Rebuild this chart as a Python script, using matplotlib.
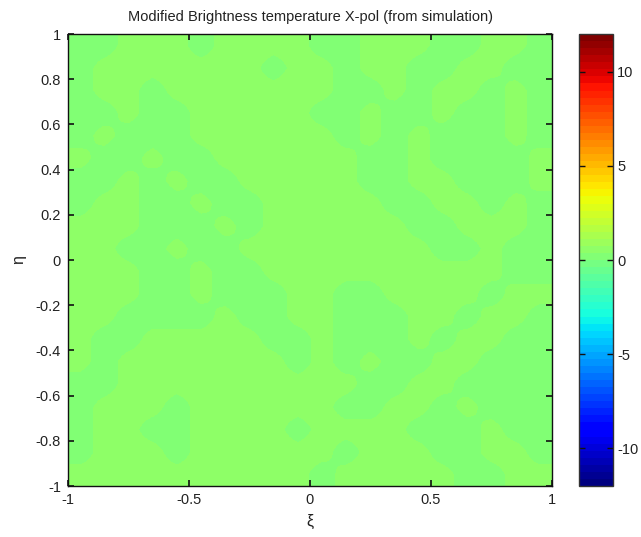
import numpy as np
import matplotlib
matplotlib.use("Agg")
import matplotlib.pyplot as plt

plt.rcParams['font.family'] = ['Liberation Sans', 'DejaVu Sans']
plt.rcParams['axes.unicode_minus'] = False

title = "Modified Brightness temperature X-pol (from simulation)"
xlabel = "ξ"
ylabel = "η"
xticks = [-1, -0.5, 0, 0.5, 1]
yticks = [-1, -0.8, -0.6, -0.4, -0.2, 0, 0.2, 0.4, 0.6, 0.8, 1]
cticks = [-10, -5, 0, 5, 10]
clim = (-12, 12)

# Brightness temperature field (K), rows from eta=+1 (top) to eta=-1 (bottom),
# columns from xi=-1 (left) to xi=+1 (right)
tb = [
    [0.1,0.1,0.6,0.6,0.6,0.1,0.6,0.6,0.6,0.6,0.1,0.1,0.6,0.6,0.6,0.1,0.1,0.6,0.6,0.1],
    [0.1,0.6,0.6,0.6,0.6,0.6,0.6,0.6,0.1,0.6,0.6,0.1,0.6,0.6,0.1,0.1,0.6,0.6,0.1,0.1],
    [0.1,0.6,0.6,0.1,0.6,0.6,0.6,0.6,0.6,0.6,0.6,0.1,0.1,0.6,0.1,0.6,0.6,0.1,0.6,0.1],
    [0.1,0.1,0.6,0.1,0.1,0.6,0.6,0.6,0.6,0.6,0.1,0.1,0.6,0.1,0.1,0.6,0.1,0.1,0.6,0.1],
    [0.1,0.6,0.1,0.1,0.1,0.6,0.6,0.6,0.6,0.6,0.6,0.1,0.6,0.1,0.6,0.1,0.1,0.1,0.6,0.1],
    [0.6,0.1,0.1,0.6,0.1,0.1,0.6,0.6,0.6,0.6,0.6,0.6,0.1,0.1,0.6,0.1,0.1,0.1,0.1,0.6],
    [0.1,0.1,0.6,0.1,0.6,0.1,0.1,0.6,0.6,0.6,0.6,0.6,0.1,0.1,0.6,0.6,0.1,0.1,0.1,0.6],
    [0.1,0.6,0.6,0.1,0.1,0.6,0.1,0.1,0.6,0.6,0.6,0.6,0.6,0.1,0.1,0.6,0.6,0.1,0.6,0.1],
    [0.6,0.6,0.6,0.1,0.1,0.1,0.6,0.1,0.6,0.6,0.6,0.6,0.6,0.6,0.1,0.1,0.6,0.6,0.6,0.1],
    [0.6,0.6,0.1,0.1,0.6,0.1,0.1,0.6,0.6,0.6,0.6,0.6,0.6,0.6,0.6,0.1,0.1,0.6,0.1,0.1],
    [0.6,0.6,0.6,0.1,0.1,0.6,0.1,0.1,0.6,0.6,0.6,0.6,0.6,0.6,0.6,0.6,0.6,0.6,0.1,0.1],
    [0.6,0.6,0.6,0.1,0.1,0.6,0.1,0.1,0.1,0.6,0.6,0.1,0.1,0.6,0.6,0.6,0.6,0.1,0.6,0.6],
    [0.6,0.6,0.1,0.1,0.1,0.1,0.6,0.1,0.1,0.6,0.6,0.1,0.1,0.1,0.6,0.6,0.1,0.6,0.6,0.1],
    [0.6,0.1,0.1,0.6,0.6,0.6,0.6,0.6,0.1,0.1,0.6,0.1,0.1,0.1,0.6,0.1,0.6,0.6,0.1,0.1],
    [0.6,0.1,0.6,0.6,0.6,0.6,0.6,0.6,0.6,0.1,0.6,0.1,0.6,0.1,0.1,0.6,0.6,0.1,0.1,0.1],
    [0.1,0.1,0.6,0.6,0.6,0.6,0.6,0.6,0.6,0.6,0.6,0.6,0.1,0.1,0.6,0.6,0.1,0.1,0.1,0.1],
    [0.1,0.6,0.6,0.6,0.1,0.6,0.6,0.6,0.6,0.6,0.6,0.1,0.1,0.6,0.6,0.1,0.6,0.1,0.1,0.1],
    [0.1,0.6,0.6,0.1,0.1,0.6,0.6,0.6,0.6,0.1,0.6,0.6,0.6,0.6,0.1,0.1,0.1,0.6,0.1,0.1],
    [0.1,0.6,0.6,0.6,0.1,0.6,0.6,0.6,0.6,0.6,0.6,0.1,0.6,0.6,0.6,0.1,0.1,0.6,0.6,0.1],
    [0.6,0.6,0.6,0.6,0.6,0.6,0.6,0.6,0.6,0.6,0.1,0.6,0.6,0.6,0.6,0.6,0.1,0.1,0.6,0.6],
]

W, H = 641, 537
fig = plt.figure(figsize=(W / 100, H / 100), dpi=100)
ax = fig.add_axes([68 / W, 1 - 486 / H, 484 / W, 452 / H])
cax = fig.add_axes([579 / W, 1 - 486 / H, 34 / W, 452 / H])

cmap = plt.get_cmap('jet', 64)
im = ax.imshow(np.array(tb), extent=[-1, 1, -1, 1], origin='upper',
               cmap=cmap, vmin=clim[0], vmax=clim[1],
               interpolation='bilinear', aspect='auto')

txt = '#222222'
ax.set_xlim(-1, 1)
ax.set_ylim(-1, 1)
ax.set_xticks(xticks)
ax.set_xticklabels([f"{t:g}" for t in xticks])
ax.set_yticks(yticks)
ax.set_yticklabels([f"{t:g}" for t in yticks])
ax.tick_params(direction='in', length=4, width=1.2, top=True, right=True,
               labelsize=10.5, colors='#111111', labelcolor=txt, pad=5)
for s in ax.spines.values():
    s.set_linewidth(1.0)
    s.set_color('#111111')
ax.set_title(title, fontsize=10.5, color=txt, pad=9)
ax.set_xlabel(xlabel, fontsize=11.5, color=txt, labelpad=5)
ax.set_ylabel(ylabel, fontsize=11.5, color=txt, labelpad=7)

cb = fig.colorbar(im, cax=cax, ticks=cticks)
cb.ax.set_yticklabels([f"{t:g}" for t in cticks])
cb.ax.tick_params(direction='in', length=4, width=1.0, left=True, right=True,
                  labelsize=10.5, colors='#111111', labelcolor=txt, pad=3)
cb.outline.set_linewidth(1.0)
cb.outline.set_edgecolor('#333333')

fig.savefig('out.png', dpi=100)
